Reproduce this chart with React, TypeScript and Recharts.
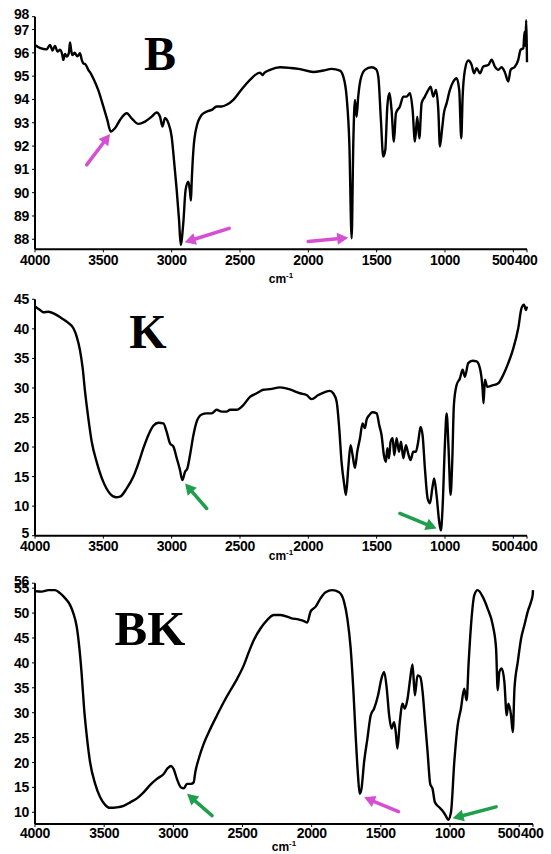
import { LineChart, Line, XAxis, YAxis, ReferenceLine } from 'recharts'

// wavenumber (cm-1) ticks, shared by all three panels
const X_TICKS = [4000, 3500, 3000, 2500, 2000, 1500, 1000, 500, 400]

const B_Y_TICKS = [88, 89, 90, 91, 92, 93, 94, 95, 96, 97, 97.55]
const B_Y_LABELS = ['88', '89', '90', '91', '92', '93', '94', '95', '96', '97', '98']
const K_Y_TICKS = [5, 10, 15, 20, 25, 30, 35, 40, 45]
const K_Y_LABELS = ['5', '10', '15', '20', '25', '30', '35', '40', '45']
const BK_Y_TICKS = [10, 15, 20, 25, 30, 35, 40, 45, 50, 55, 56]
const BK_Y_LABELS = ['10', '15', '20', '25', '30', '35', '40', '45', '50', '55', '56']

// [wavenumber, transmittance %]
const B_SPECTRUM = [
  [4000, 96.34], [3960, 96.2], [3915, 96.15], [3890, 96.34], [3872, 96.1], [3854, 96.3],
  [3835, 96.05], [3817, 96.13], [3800, 95.9], [3793, 95.7], [3780, 95.95], [3768, 95.84],
  [3752, 96.0], [3744, 96.44], [3735, 96.1], [3727, 95.9], [3710, 96.0], [3690, 95.85],
  [3671, 95.98], [3658, 95.7], [3646, 95.55], [3630, 95.5], [3610, 95.27], [3590, 95.1],
  [3573, 94.9], [3537, 94.4], [3500, 93.7], [3471, 93.12], [3446, 92.62], [3415, 92.76],
  [3378, 93.12], [3329, 93.41], [3293, 93.19], [3244, 92.95], [3195, 93.05], [3146, 93.26],
  [3110, 93.44], [3085, 93.26], [3068, 92.84], [3049, 93.19], [3024, 92.98], [3000, 92.4],
  [2983, 91.4], [2963, 90.1], [2946, 88.83], [2934, 87.76], [2915, 88.69], [2898, 90.12],
  [2878, 90.47], [2866, 90.05], [2859, 89.66], [2854, 90.4], [2841, 91.83], [2817, 92.84],
  [2780, 93.34], [2744, 93.48], [2707, 93.55], [2671, 93.7], [2634, 93.7], [2598, 93.77],
  [2549, 93.98], [2500, 94.34], [2427, 94.84], [2354, 95.15], [2335, 95.05], [2320, 95.15],
  [2280, 95.27], [2207, 95.38], [2130, 95.35], [2061, 95.3], [1964, 95.18], [1891, 95.24],
  [1830, 95.31], [1769, 95.24], [1744, 94.98], [1720, 94.12], [1700, 92.12], [1683, 88.04],
  [1671, 92.12], [1659, 93.98], [1647, 93.26], [1635, 94.12], [1618, 94.84], [1586, 95.27],
  [1537, 95.38], [1505, 95.3], [1488, 94.98], [1469, 93.12], [1452, 91.55], [1437, 91.83],
  [1422, 93.7], [1408, 94.27], [1391, 93.55], [1374, 92.19], [1359, 93.41], [1330, 93.7],
  [1305, 94.12], [1281, 94.12], [1256, 94.27], [1237, 93.55], [1220, 92.19], [1203, 93.26],
  [1188, 92.33], [1171, 93.84], [1147, 94.12], [1122, 94.41], [1105, 94.55], [1086, 94.12],
  [1066, 94.41], [1049, 93.55], [1037, 91.98], [1022, 92.69], [1008, 93.41], [988, 93.84],
  [964, 94.41], [939, 94.77], [915, 94.91], [896, 94.41], [881, 92.33], [871, 94.12],
  [854, 95.27], [830, 95.67], [805, 95.48], [788, 95.12], [769, 95.34], [744, 95.12],
  [720, 95.41], [683, 95.48], [659, 95.7], [635, 95.41], [610, 95.27], [586, 95.38],
  [561, 95.15], [537, 94.77], [520, 95.27], [488, 95.41], [464, 95.7], [447, 96.13],
  [427, 96.2], [418, 96.9], [412, 96.3], [406, 97.4], [402, 96.4], [400, 95.6],
]

const K_SPECTRUM = [
  [4000, 43.8], [3963, 43.2], [3939, 42.8], [3902, 42.9], [3854, 42.5], [3805, 41.8],
  [3756, 41.0], [3719, 40.1], [3695, 38.7], [3671, 36.4], [3651, 33.3], [3634, 29.4],
  [3610, 24.9], [3585, 20.9], [3549, 17.5], [3500, 14.1], [3451, 12.1], [3407, 11.5],
  [3378, 11.6], [3329, 13.0], [3280, 15.0], [3244, 17.2], [3207, 19.8], [3171, 22.0],
  [3134, 23.6], [3097, 24.1], [3061, 24.0], [3037, 22.6], [3012, 20.6], [2988, 20.1],
  [2963, 18.1], [2939, 16.1], [2922, 14.4], [2902, 15.8], [2885, 16.4], [2866, 18.6],
  [2841, 22.0], [2817, 24.3], [2780, 25.5], [2744, 25.7], [2707, 25.7], [2671, 26.3],
  [2634, 26.0], [2598, 26.0], [2573, 26.3], [2524, 26.3], [2476, 27.1], [2427, 28.5],
  [2378, 29.1], [2329, 29.7], [2280, 29.8], [2207, 30.1], [2130, 29.7], [2061, 29.1],
  [2013, 28.8], [1976, 28.1], [1927, 28.8], [1879, 29.3], [1842, 29.5], [1818, 29.1],
  [1793, 27.7], [1774, 23.2], [1757, 17.5], [1737, 13.6], [1725, 11.9], [1708, 16.4],
  [1691, 20.3], [1676, 18.6], [1659, 16.5], [1642, 19.2], [1622, 21.5], [1603, 24.0],
  [1586, 23.2], [1574, 24.6], [1554, 25.4], [1530, 25.9], [1500, 25.7], [1481, 23.7],
  [1464, 22.0], [1447, 18.6], [1432, 17.5], [1422, 19.8], [1410, 18.1], [1398, 20.9],
  [1383, 21.5], [1371, 18.6], [1354, 21.5], [1337, 19.2], [1322, 20.9], [1305, 18.1],
  [1286, 20.3], [1269, 18.9], [1252, 17.8], [1232, 19.2], [1213, 19.2], [1196, 20.9],
  [1179, 23.4], [1164, 22.0], [1147, 16.4], [1127, 11.3], [1110, 10.5], [1093, 13.0],
  [1079, 14.7], [1062, 11.9], [1042, 7.3], [1030, 5.9], [1018, 9.6], [1001, 20.3],
  [988, 25.7], [974, 19.8], [959, 11.9], [947, 17.5], [935, 27.1], [915, 30.5],
  [891, 31.6], [871, 33.1], [854, 31.9], [830, 34.2], [798, 34.6], [769, 34.5],
  [744, 33.3], [725, 29.9], [718, 27.4], [708, 31.4], [691, 30.2], [659, 30.4],
  [610, 30.8], [574, 32.2], [537, 34.2], [500, 36.7], [464, 40.1], [440, 43.5],
  [422, 44.1], [408, 43.2], [400, 43.8],
]

const BK_SPECTRUM = [
  [4000, 54.4], [3952, 54.3], [3903, 54.6], [3855, 54.6], [3819, 54.0], [3783, 53.0],
  [3746, 51.6], [3722, 49.9], [3698, 47.2], [3679, 42.9], [3662, 37.5], [3645, 30.8],
  [3626, 25.4], [3602, 20.1], [3565, 15.7], [3529, 13.0], [3493, 11.5], [3461, 10.9],
  [3408, 11.0], [3360, 11.3], [3312, 12.0], [3263, 12.8], [3215, 14.0], [3167, 15.5],
  [3119, 16.7], [3070, 17.7], [3039, 18.9], [3017, 19.3], [2998, 18.7], [2974, 16.7],
  [2945, 15.0], [2925, 14.8], [2901, 15.7], [2872, 15.7], [2853, 16.0], [2841, 18.1],
  [2817, 20.7], [2780, 23.8], [2732, 26.8], [2684, 29.5], [2636, 32.1], [2587, 34.5],
  [2539, 36.8], [2491, 39.5], [2454, 42.2], [2418, 44.6], [2370, 46.9], [2322, 48.6],
  [2273, 49.6], [2225, 49.6], [2150, 49.0], [2080, 48.6], [2056, 48.4], [2032, 48.1],
  [2008, 50.3], [1971, 51.3], [1935, 53.0], [1899, 54.2], [1851, 54.6], [1802, 54.2],
  [1766, 52.3], [1742, 48.9], [1718, 42.9], [1698, 34.2], [1682, 25.4], [1665, 17.4],
  [1653, 13.7], [1640, 14.7], [1621, 20.1], [1597, 24.8], [1573, 29.5], [1549, 30.8],
  [1520, 33.5], [1496, 36.8], [1476, 38.2], [1457, 34.8], [1440, 29.5], [1423, 26.8],
  [1404, 28.1], [1392, 26.1], [1380, 22.8], [1363, 28.1], [1343, 31.8], [1327, 30.8],
  [1307, 32.8], [1288, 36.8], [1271, 39.7], [1254, 33.5], [1235, 37.5], [1215, 37.2],
  [1198, 34.2], [1182, 28.8], [1162, 22.1], [1143, 15.7], [1126, 14.7], [1109, 12.0],
  [1078, 11.0], [1054, 10.3], [1030, 9.3], [1013, 8.5], [993, 10.0], [969, 20.1],
  [945, 27.4], [921, 30.8], [897, 34.8], [880, 32.5], [865, 40.2], [848, 47.6],
  [824, 53.6], [800, 54.6], [764, 53.3], [728, 50.9], [691, 47.6], [667, 42.9],
  [655, 34.5], [643, 38.2], [626, 38.9], [607, 36.2], [590, 29.5], [578, 31.8],
  [559, 29.5], [546, 26.1], [534, 34.8], [510, 40.2], [486, 44.9], [462, 47.6],
  [438, 50.3], [414, 52.3], [402, 53.7], [400, 54.6],
]

// annotation arrows: [tailW, tailT, headW, headT, colour]
const MAGENTA = '#d64fd2'
const GREEN = '#1f9f4c'
const B_ARROWS = [
  [3622, 91.19, 3451, 92.52, MAGENTA],
  [2579, 88.47, 2905, 87.87, MAGENTA],
  [2001, 87.9, 1708, 88.07, MAGENTA],
]
const K_ARROWS = [
  [2744, 9.6, 2902, 13.84, GREEN],
  [1330, 8.76, 1061, 6.2, GREEN],
]
const BK_ARROWS = [
  [2720, 9.33, 2901, 13.7, GREEN],
  [1372, 10.13, 1621, 13.0, MAGENTA],
  [667, 11.1, 981, 8.8, GREEN],
]

const TICK_FONT = { fontFamily: '"Liberation Sans", Arial, sans-serif', fontWeight: 700, fontSize: 14 }

const toRows = (pts: number[][]) => pts.map(([w, t]) => ({ w, t }))

const XTick = (props: any) => {
  const { x, y, payload } = props
  // 500 and 400 sit almost on top of each other: 500 ends at its tick, 400 follows it
  let anchor = 'middle'
  let tx = x
  if (payload.value === 500) {
    anchor = 'end'
    tx = x + 1
  } else if (payload.value === 400) {
    anchor = 'start'
    tx = x - 12
  }
  return (
    <text x={tx} y={y} dy="0.71em" textAnchor={anchor} fill="#000" letterSpacing={-0.3} {...TICK_FONT}>
      {payload.value}
    </text>
  )
}

const makeYTick = (ticks: number[], labels: string[]) => (props: any) => {
  const { x, y, payload } = props
  const i = ticks.indexOf(payload.value)
  let ty = y
  if (i === ticks.length - 1 && ticks.length > 9) ty = y - 2.5
  if (i === 0 && payload.value === 5) ty = y - 3
  return (
    <text x={x} y={ty} dy="0.36em" textAnchor="end" fill="#000" letterSpacing={-0.3} {...TICK_FONT}>
      {i >= 0 ? labels[i] : payload.value}
    </text>
  )
}

const arrowShape = (color: string) => (props: any) => {
  const { x1, y1, x2, y2 } = props
  const dx = x2 - x1
  const dy = y2 - y1
  const len = Math.hypot(dx, dy) || 1
  const ux = dx / len
  const uy = dy / len
  const head = 11
  const half = 6
  const bx = x2 - ux * head
  const by = y2 - uy * head
  return (
    <g>
      <line x1={x1} y1={y1} x2={bx} y2={by} stroke={color} strokeWidth={3.5} strokeLinecap="round" />
      <polygon
        points={`${x2},${y2} ${bx - uy * half},${by + ux * half} ${bx + uy * half},${by - ux * half}`}
        fill={color}
      />
    </g>
  )
}

interface PanelProps {
  top: number
  marginTop: number
  plotHeight: number
  marginRight: number
  xAxisHeight: number
  tickGap: number
  domain: [number, number]
  yTicks: number[]
  yLabels: string[]
  spectrum: number[][]
  arrows: any[][]
}

function Panel(p: PanelProps) {
  const height = p.marginTop + p.plotHeight + p.xAxisHeight
  return (
    <div style={{ position: 'absolute', left: 0, top: p.top }}>
      <LineChart
        width={551}
        height={height}
        data={toRows(p.spectrum)}
        margin={{ top: p.marginTop, right: p.marginRight, bottom: 0, left: 0 }}
      >
        <XAxis
          type="number"
          dataKey="w"
          domain={[400, 4000]}
          reversed
          ticks={X_TICKS}
          interval={0}
          height={p.xAxisHeight}
          tickSize={3}
          tickMargin={p.tickGap}
          axisLine={{ stroke: '#000', strokeWidth: 2 }}
          tickLine={{ stroke: '#000' }}
          tick={<XTick />}
        />
        <YAxis
          type="number"
          domain={p.domain}
          ticks={p.yTicks}
          interval={0}
          width={35}
          tickSize={3}
          tickMargin={3}
          allowDataOverflow
          axisLine={{ stroke: '#000', strokeWidth: 2 }}
          tickLine={{ stroke: '#000' }}
          tick={makeYTick(p.yTicks, p.yLabels)}
        />
        <Line
          type="monotone"
          dataKey="t"
          stroke="#000"
          strokeWidth={2.4}
          dot={false}
          isAnimationActive={false}
        />
        {p.arrows.map((a, i) => (
          <ReferenceLine
            key={i}
            segment={[{ x: a[0], y: a[1] }, { x: a[2], y: a[3] }]}
            shape={arrowShape(a[4])}
          />
        ))}
      </LineChart>
    </div>
  )
}

const SERIF = '"Liberation Serif", "Times New Roman", serif'
const SANS = '"Liberation Sans", Arial, sans-serif'

function UnitLabel({ x, y }: { x: number; y: number }) {
  return (
    <text x={x} y={y} textAnchor="middle" fontFamily={SANS} fontWeight={700} fontSize={12} fill="#000">
      cm<tspan fontSize={8} dy={-5}>-1</tspan>
    </text>
  )
}

export default function App() {
  return (
    <div style={{ position: 'absolute', left: 0, top: 0, width: 551, height: 854, background: '#fff' }}>
      <Panel top={0} marginTop={16.7} plotHeight={232.6} marginRight={24} xAxisHeight={40} tickGap={3}
        domain={[87.57, 97.55]} yTicks={B_Y_TICKS} yLabels={B_Y_LABELS} spectrum={B_SPECTRUM} arrows={B_ARROWS} />
      <Panel top={290} marginTop={9.3} plotHeight={236.4} marginRight={24} xAxisHeight={30} tickGap={2}
        domain={[5, 45]} yTicks={K_Y_TICKS} yLabels={K_Y_LABELS} spectrum={K_SPECTRUM} arrows={K_ARROWS} />
      <Panel top={566} marginTop={17.2} plotHeight={240.8} marginRight={18} xAxisHeight={30} tickGap={1}
        domain={[7.65, 56]} yTicks={BK_Y_TICKS} yLabels={BK_Y_LABELS} spectrum={BK_SPECTRUM} arrows={BK_ARROWS} />
      <svg width={551} height={854} style={{ position: 'absolute', left: 0, top: 0, pointerEvents: 'none' }}>
        <text x={160} y={70} textAnchor="middle" fontFamily={SERIF} fontWeight={700} fontSize={48}>B</text>
        <text x={148} y={348} textAnchor="middle" fontFamily={SERIF} fontWeight={700} fontSize={48}>K</text>
        <text x={150} y={645} textAnchor="middle" fontFamily={SERIF} fontWeight={700} fontSize={49}>BK</text>
        <UnitLabel x={281} y={283} />
        <UnitLabel x={281} y={560} />
        <UnitLabel x={284} y={851} />
      </svg>
    </div>
  )
}
